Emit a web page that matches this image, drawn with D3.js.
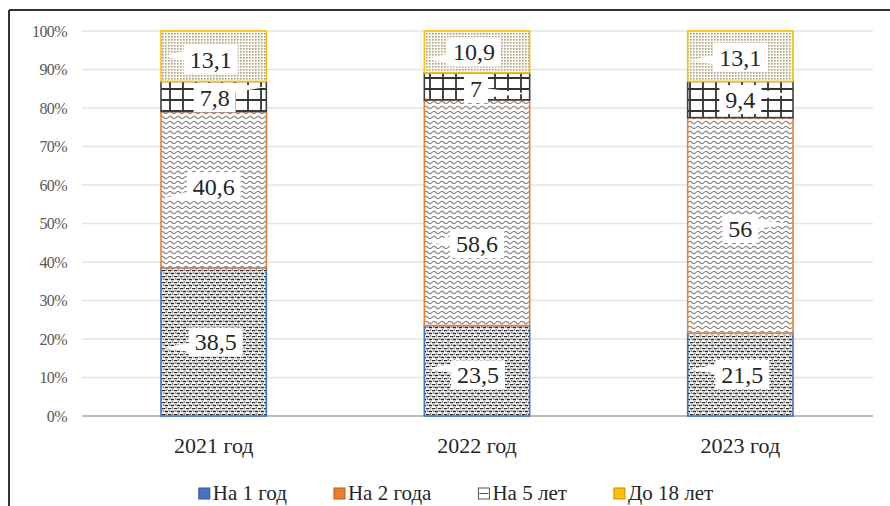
<!DOCTYPE html>
<html><head><meta charset="utf-8">
<script src="https://cdn.jsdelivr.net/npm/d3@7"></script>
<style>html,body{margin:0;padding:0;background:#fff}svg{display:block}
.serif{font-family:"Liberation Serif","Times New Roman",Times,"Nimbus Roman","DejaVu Serif","Noto Serif",serif !important}</style>
</head><body>
<svg id="c" width="890" height="506"></svg>
<script>
const categories = ["2021 год", "2022 год", "2023 год"];
const seriesNames = ["На 1 год", "На 2 года", "На 5 лет", "До 18 лет"];
const s1 = [38.5, 23.5, 21.5];
const s2 = [40.6, 58.6, 56];
const s3 = [7.8, 7, 9.4];
const s4 = [13.1, 10.9, 13.1];
const labels1 = ["38,5", "23,5", "21,5"];
const labels2 = ["40,6", "58,6", "56"];
const labels3 = ["7,8", "7", "9,4"];
const labels4 = ["13,1", "10,9", "13,1"];
const yTicks = [0, 10, 20, 30, 40, 50, 60, 70, 80, 90, 100];

// callout layout: [dx, dy, tail side, tail dy] per series per category
const calloutLayout = [
  [[2, 0, "L", 6], [1, 4, "L", -6], [2, 0, "L", -5]],
  [[0, -3, "L", 12], [0, 31, "L", -2], [0, 3, "R", -4]],
  [[1, 1, "R", -10], [-1, 2, "R", 5], [0, 0, "R", -5]],
  [[-3, 3, "L", -3], [-3, 0, "L", 7], [0, 1, "L", 3]]
];

const svg = d3.select("#c");
const colors = ["#4472C4", "#ED7D31", "#404040", "#FFC000"];

// patterns
const defs = svg.append("defs");
let p = defs.append("pattern").attr("id", "pat0").attr("patternUnits", "userSpaceOnUse").attr("width", 6).attr("height", 6);
p.append("rect").attr("width", 6).attr("height", 6).attr("fill", "#fff");
p.append("path").attr("d", "M0,1 Q1.5,-0.5 3,1 M3,4 Q4.5,2.5 6,4 M1.5,2.5 v1 M4.5,5.5 v1 M4.5,-0.5 v1")
  .attr("stroke", "#2a2a2a").attr("stroke-width", 1.6).attr("fill", "none");
p = defs.append("pattern").attr("id", "pat1").attr("patternUnits", "userSpaceOnUse").attr("width", 8).attr("height", 5);
p.append("rect").attr("width", 8).attr("height", 5).attr("fill", "#fff");
p.append("path").attr("d", "M0,2.5 Q2,0.3 4,2.5 T8,2.5").attr("stroke", "#8a8a8a").attr("stroke-width", 1.2).attr("fill", "none");
p = defs.append("pattern").attr("id", "pat2").attr("patternUnits", "userSpaceOnUse").attr("width", 13).attr("height", 11);
p.append("rect").attr("width", 13).attr("height", 11).attr("fill", "#fff");
p.append("path").attr("d", "M1,0 V11 M0,1 H13").attr("stroke", "#333").attr("stroke-width", 1.8).attr("fill", "none");
p = defs.append("pattern").attr("id", "pat3").attr("patternUnits", "userSpaceOnUse").attr("width", 3).attr("height", 3);
p.append("rect").attr("width", 3).attr("height", 3).attr("fill", "#fffbe8");
p.append("rect").attr("width", 1.6).attr("height", 1.6).attr("fill", "#a0a0a0");

// frame
svg.append("line").attr("x1", 9).attr("x2", 890).attr("y1", 10).attr("y2", 10).attr("stroke", "#333").attr("stroke-width", 2);
svg.append("line").attr("x1", 9).attr("x2", 9).attr("y1", 10).attr("y2", 506).attr("stroke", "#333").attr("stroke-width", 2);

const x = d3.scaleBand().domain(categories).range([82, 872]).paddingInner(0.6).paddingOuter(0.3);
const y = d3.scaleLinear().domain([0, 100]).range([416, 31]);

// gridlines
svg.append("g").selectAll("line").data(yTicks).join("line")
  .attr("x1", 82).attr("x2", 873)
  .attr("y1", d => y(d)).attr("y2", d => y(d))
  .attr("stroke", d => d === 0 ? "#bdbdbd" : "#e4e4e4")
  .attr("stroke-width", d => d === 0 ? 2 : 1.5);

// y axis labels
const yAxis = d3.axisLeft(y).tickValues(yTicks).tickFormat(d => d + "%").tickSize(0).tickPadding(0);
const ya = svg.append("g").attr("transform", "translate(67,0)").call(yAxis);
ya.select(".domain").remove();
ya.selectAll("text").attr("class", "serif").attr("font-size", 16).attr("fill", "#595959").attr("letter-spacing", -0.6).attr("dy", "0.34em");

// x axis labels
const xAxis = d3.axisBottom(x).tickSize(0).tickPadding(0);
const xa = svg.append("g").attr("transform", "translate(0,437)").call(xAxis);
xa.select(".domain").remove();
xa.selectAll("text").attr("class", "serif").attr("font-size", 22).attr("fill", "#262626").attr("dy", "0.71em");

// stack
const allSeries = [s1, s2, s3, s4];
const allLabels = [labels1, labels2, labels3, labels4];
const rows = categories.map((c, i) => {
  const o = { cat: c };
  seriesNames.forEach((n, k) => o[n] = allSeries[k][i]);
  return o;
});
const stacked = d3.stack().keys(seriesNames)(rows);

const bars = svg.append("g");
stacked.forEach((layer, k) => {
  bars.append("g").selectAll("rect").data(layer).join("rect")
    .attr("x", d => x(d.data.cat))
    .attr("width", x.bandwidth())
    .attr("y", d => y(d[1]))
    .attr("height", d => y(d[0]) - y(d[1]))
    .attr("fill", `url(#pat${k})`)
    .attr("stroke", colors[k])
    .attr("stroke-width", 1.6);
});

// callouts
const cg = svg.append("g");
stacked.forEach((layer, k) => {
  layer.forEach((d, i) => {
    const [dx, dy, side, tdy] = calloutLayout[k][i];
    const cx = x(d.data.cat) + x.bandwidth() / 2 + dx;
    const cy = (y(d[0]) + y(d[1])) / 2 + dy;
    const txt = allLabels[k][i];
    const g = cg.append("g");
    const t = g.append("text").attr("x", cx).attr("y", cy).attr("dy", "0.35em")
      .attr("text-anchor", "middle").attr("class", "serif").attr("font-size", 24).attr("fill", "#262626").text(txt);
    const w = t.node().getComputedTextLength() + 12;
    const h = 29;
    const l = cx - w / 2, r = cx + w / 2, tp = cy - h / 2, bt = cy + h / 2;
    const ty = cy + tdy;
    let path;
    const a = Math.max(tp, Math.min(bt - 9, ty - 5));
    if (side === "L") {
      const tx = x(d.data.cat) + 2;
      path = `M${l},${tp} H${r} V${bt} H${l} V${a + 9} L${tx},${ty} L${l},${a} Z`;
    } else {
      const tx = x(d.data.cat) + x.bandwidth() - 2;
      path = `M${l},${tp} H${r} V${a} L${tx},${ty} L${r},${a + 9} V${bt} H${l} Z`;
    }
    g.insert("path", "text").attr("d", path).attr("fill", "#fff");
  });
});

// legend
const lg = svg.append("g");
let cx0 = 0;
const gap = 47;
seriesNames.forEach((n, k) => {
  const g = lg.append("g");
  g.append("rect").attr("x", cx0).attr("y", -12).attr("width", 11).attr("height", 11)
    .attr("fill", k === 2 ? "#fff" : colors[k]).attr("stroke", k === 2 ? "#555" : d3.color(colors[k]).darker(0.8)).attr("stroke-width", 1);
  if (k === 2) g.append("line").attr("x1", cx0 + 1).attr("x2", cx0 + 10).attr("y1", -6.5).attr("y2", -6.5).attr("stroke", "#555");
  const t = g.append("text").attr("x", cx0 + 14).attr("y", 0).attr("class", "serif").attr("font-size", 21).attr("fill", "#262626").text(n);
  cx0 += 14 + t.node().getComputedTextLength() + gap;
});
const totalW = cx0 - gap;
lg.attr("transform", `translate(${456 - totalW / 2},500)`);
</script>
</body></html>
